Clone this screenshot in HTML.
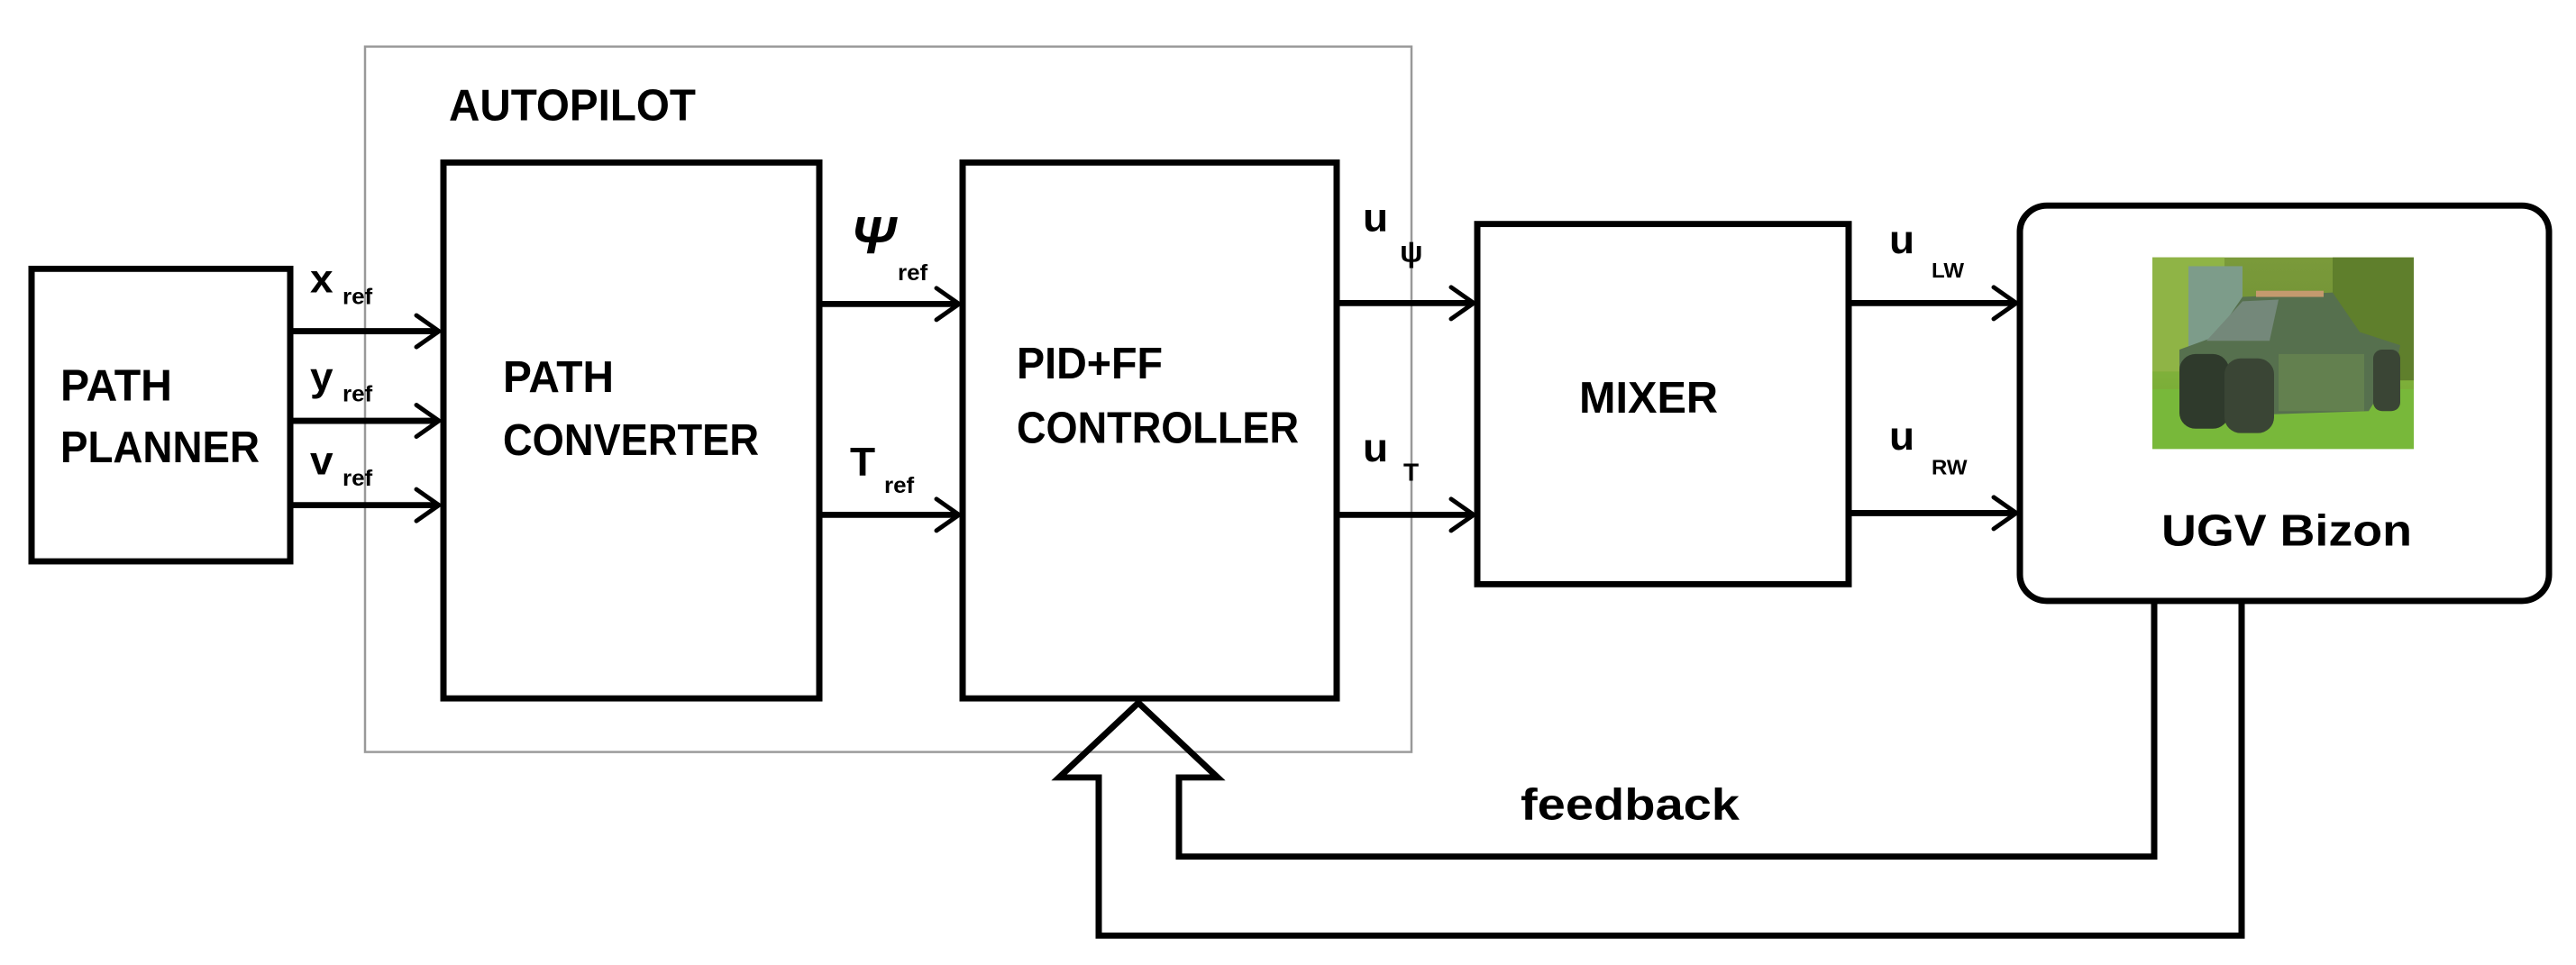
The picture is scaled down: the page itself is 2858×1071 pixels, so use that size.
<!DOCTYPE html>
<html><head><meta charset="utf-8"><style>
html,body{margin:0;padding:0;background:#fff;}
svg{display:block}
text{font-family:"Liberation Sans",sans-serif;font-weight:bold;fill:#000}
</style></head><body>
<svg width="2858" height="1071" viewBox="0 0 2858 1071" xmlns="http://www.w3.org/2000/svg">
<defs>
<linearGradient id="bg" x1="0" y1="0" x2="0" y2="1">
<stop offset="0" stop-color="#7a9a3a"/><stop offset="0.55" stop-color="#6f8f35"/><stop offset="0.6" stop-color="#7fb03a"/><stop offset="1" stop-color="#6ea832"/>
</linearGradient>
</defs>
<g transform="matrix(1,0,0,0.975,0,0)">
<rect x="405" y="53" width="1161" height="803" fill="none" stroke="#999" stroke-width="2.5"/>
<text x="498" y="137" font-size="50" textLength="274" lengthAdjust="spacingAndGlyphs">AUTOPILOT</text>

<g fill="none" stroke="#000" stroke-width="7">
<rect x="35" y="306" width="287" height="333"/>
<rect x="492" y="185" width="417" height="610"/>
<rect x="1068" y="185" width="415" height="610"/>
<rect x="1639" y="255" width="412" height="410"/>
<rect x="2241" y="234" width="587" height="450" rx="30"/>
</g>

<text x="67" y="456" font-size="50" textLength="124" lengthAdjust="spacingAndGlyphs">PATH</text>
<text x="67" y="526" font-size="50" textLength="221" lengthAdjust="spacingAndGlyphs">PLANNER</text>
<text x="558" y="446" font-size="50" textLength="123" lengthAdjust="spacingAndGlyphs">PATH</text>
<text x="558" y="518" font-size="50" textLength="284" lengthAdjust="spacingAndGlyphs">CONVERTER</text>
<text x="1128" y="431" font-size="50" textLength="162" lengthAdjust="spacingAndGlyphs">PID+FF</text>
<text x="1128" y="504" font-size="50" textLength="313" lengthAdjust="spacingAndGlyphs">CONTROLLER</text>
<text x="1752" y="470" font-size="50" textLength="154" lengthAdjust="spacingAndGlyphs">MIXER</text>
<text x="2398" y="621" font-size="50" textLength="278" lengthAdjust="spacingAndGlyphs">UGV Bizon</text>
<text x="1687" y="933" font-size="50" textLength="243" lengthAdjust="spacingAndGlyphs">feedback</text>

<g fill="none" stroke="#000" stroke-width="7">
<line x1="322" y1="377" x2="486" y2="377"/>
<line x1="322" y1="479" x2="486" y2="479"/>
<line x1="322" y1="575" x2="486" y2="575"/>
<line x1="909" y1="346" x2="1063" y2="346"/>
<line x1="909" y1="586" x2="1063" y2="586"/>
<line x1="1483" y1="345" x2="1634" y2="345"/>
<line x1="1483" y1="586" x2="1634" y2="586"/>
<line x1="2051" y1="345" x2="2236" y2="345"/>
<line x1="2051" y1="584" x2="2236" y2="584"/>
</g>
<g fill="none" stroke="#000" stroke-width="5" stroke-linecap="round">
<polyline points="462,359 487,377 462,395"/>
<polyline points="462,461 487,479 462,497"/>
<polyline points="462,557 487,575 462,593"/>
<polyline points="1039,328 1064,346 1039,364"/>
<polyline points="1039,568 1064,586 1039,604"/>
<polyline points="1610,327 1635,345 1610,363"/>
<polyline points="1610,568 1635,586 1610,604"/>
<polyline points="2212,327 2237,345 2212,363"/>
<polyline points="2212,566 2237,584 2212,602"/>
</g>

<text x="344" y="333" font-size="46">x</text>
<text x="380" y="346" font-size="26">ref</text>
<text x="344" y="444" font-size="46">y</text>
<text x="380" y="457" font-size="26">ref</text>
<text x="344" y="540" font-size="46">v</text>
<text x="380" y="553" font-size="26">ref</text>
<text x="944" y="288" font-size="60" font-style="italic">Ψ</text>
<text x="996" y="319" font-size="26">ref</text>
<text x="943" y="541" font-size="46">T</text>
<text x="981" y="561" font-size="26">ref</text>
<text x="1512" y="263" font-size="46">u</text>
<text x="1553" y="298" font-size="34" font-weight="normal">ψ</text>
<text x="1512" y="525" font-size="46">u</text>
<text x="1557" y="547" font-size="28">T</text>
<text x="2096" y="288" font-size="46">u</text>
<text x="2143" y="316" font-size="24">LW</text>
<text x="2096" y="512" font-size="46">u</text>
<text x="2143" y="540" font-size="24">RW</text>

<polyline fill="none" stroke="#000" stroke-width="7" stroke-linejoin="miter"
 points="2390,687 2390,975 1308,975 1308,885 1351,885 1263,800 1175,885 1219,885 1219,1065 2487,1065 2487,687"/>

<g transform="translate(2388,293)">
<rect width="290" height="218" fill="url(#bg)"/>
<rect x="0" y="0" width="80" height="130" fill="#8fb446"/>
<rect x="40" y="10" width="60" height="120" fill="#7d9c8a"/>
<rect x="200" y="0" width="90" height="140" fill="#5f7f2c"/>
<rect x="0" y="150" width="290" height="68" fill="#78b83a"/>
<polygon points="70,90 100,45 200,40 230,85 275,100 270,125 240,175 90,180 30,130 30,105" fill="#56704e"/>
<polygon points="60,95 100,50 140,48 130,95" fill="#74887a"/>
<rect x="115" y="38" width="75" height="7" fill="#c49a6e"/>
<rect x="30" y="110" width="55" height="85" rx="18" fill="#2f3a2c"/>
<rect x="80" y="115" width="55" height="85" rx="18" fill="#3a4535"/>
<rect x="245" y="105" width="30" height="70" rx="10" fill="#3a4535"/>
<rect x="140" y="110" width="95" height="65" fill="#63804f"/>
</g>
</g>
</svg>
</body></html>
